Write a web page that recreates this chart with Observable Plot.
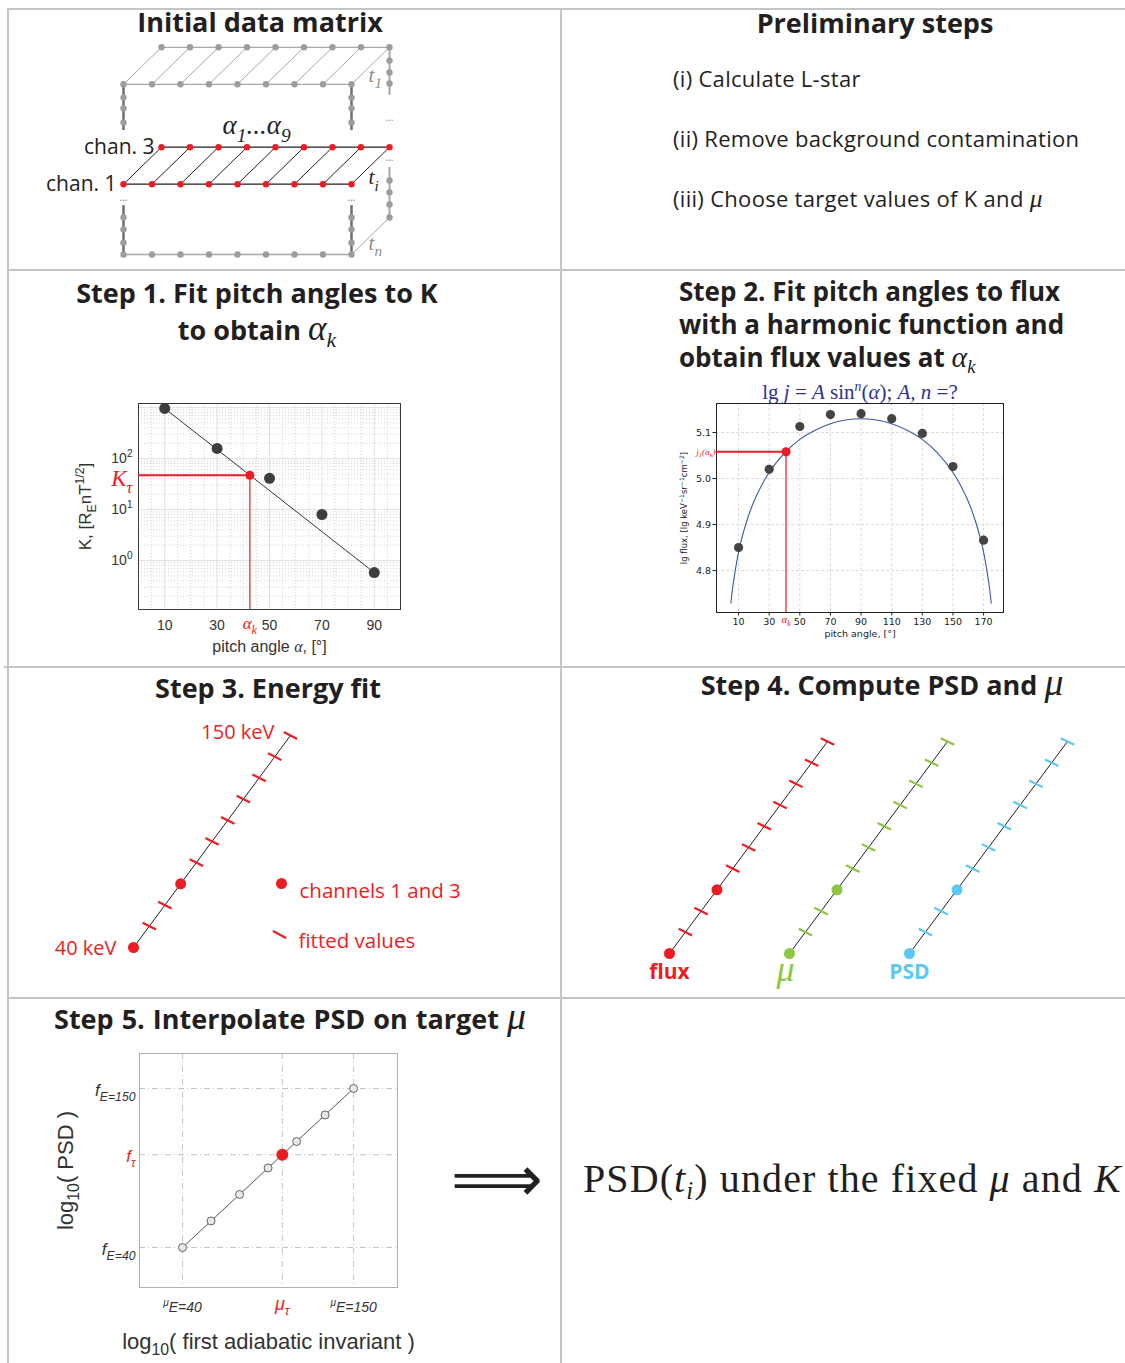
<!DOCTYPE html>
<html><head><meta charset="utf-8">
<script src="https://cdn.jsdelivr.net/npm/d3@7"></script>
<script src="https://cdn.jsdelivr.net/npm/@observablehq/plot@0.6"></script>
<style>
html,body{margin:0;padding:0;background:#fff}
#root{position:relative;width:1125px;height:1363px;overflow:hidden;font-family:"Open Sans",Lato,sans-serif;color:#231f20;background:#fff}
.sep{position:absolute;background:#c4c4c4}
.t{position:absolute;font-weight:700;font-size:27px;line-height:30px;white-space:nowrap}
.c{transform:translateX(-50%)}
.m{font-family:"Liberation Serif",serif;font-style:italic;font-weight:400;font-size:1.3em;line-height:0}
.m sub,.s sub{font-size:0.62em;vertical-align:-0.3em;line-height:0}
.item{position:absolute;left:673px;font-size:22px;letter-spacing:0.3px;line-height:26px;white-space:nowrap}
.pl{position:absolute}
.pl svg{overflow:visible}
</style></head><body><div id="root"></div>
<script>
// ---------------- DATA ----------------
const RED = "#ed1c24", GREEN = "#8dc63f", CYAN = "#5bc8f5", DARK = "#231f20";
const SERIF = "'Liberation Serif', serif", SANS = "'Liberation Sans', Arial, sans-serif", BODY = "'Open Sans', sans-serif";

// Panel "Initial data matrix": 9 pitch-angle bins, time slices t1, ti, tn
const alphaIndex = [1, 2, 3, 4, 5, 6, 7, 8, 9];
const faces = [
  {name: "t_{1}", level: 4.6, dot: "#9d9d9d", line: "#a7a7a7", label: "#8c8c8c"},
  {name: "t_{i}", level: 1.9, dot: RED, line: DARK, label: DARK}
];
const bottomFace = {name: "t_{n}", level: 0, label: "#8c8c8c"};
const depthShift = {x: 1.333, y: 1};
const frontUpperDots = [4.24, 3.95, 3.57];
const frontLowerDots = [1.0, 0.68, 0.32];
const backUpperDots = [5.24, 4.92, 4.62];
const backLowerDots = [2.0, 1.68, 1.35, 1.0];
const channelLabels = ["chan. 3", "chan. 1"];

// Step 1: K vs pitch angle
const pitchAngles = [10, 30, 50, 70, 90];
const kValues = [960, 158, 41, 8, 0.58];
const kFitAngles = [10, 90];
const kFitValues = [960, 0.58];
const alphaK1 = 42.5, kTau = 47;

// Step 2: lg flux vs pitch angle
const fluxAngles = [10, 30, 50, 70, 90, 110, 130, 150, 170];
const lgFlux = [4.85, 5.02, 5.113, 5.139, 5.141, 5.13, 5.098, 5.026, 4.866];
const fitAngles = [5, 6, 7.5, 10, 15, 20, 25, 30, 40, 50, 60, 70, 80, 90, 100, 110, 120, 130, 140, 150, 155, 160, 165, 170, 172.5, 174, 175];
const fitLgFlux = [4.729, 4.759, 4.793, 4.840, 4.904, 4.950, 4.985, 5.013, 5.055, 5.085, 5.105, 5.119, 5.127, 5.130, 5.127, 5.119, 5.105, 5.085, 5.055, 5.013, 4.985, 4.950, 4.904, 4.840, 4.793, 4.759, 4.729];
const alphaK2 = 41, jAlphaK = 5.058;

// Step 3 / 4: energy grid (keV)
const energies = [40, 45.7, 52.1, 59.5, 67.9, 77.5, 88.4, 100.9, 115.2, 131.4, 150];
const channelEnergies = [40, 59.5];
const quantities = ["flux", "μ", "PSD"];
const quantityColors = [RED, GREEN, CYAN];

// Step 5: interpolation of PSD on target mu
const logMuSteps = [0, 1, 2, 3, 4, 5, 6];
const logPsdSteps = [0, 1, 2, 3, 4, 5, 6];
const muTarget = 3.5, psdTarget = 3.5;
const muTicks = [0, 3.5, 6];
const muTickLabels = ["^{μ}E=40", "μ_{τ}", "^{μ}E=150"];
const psdTicks = [0, 3.5, 6];
const psdTickLabels = ["f_{E=40}", "f_{τ}", "f_{E=150}"];

// ---------------- LAYOUT ----------------
const root = document.getElementById("root");
root.innerHTML = `
<div class="sep" style="left:8px;top:8px;width:1117px;height:2px"></div>
<div class="sep" style="left:8px;top:269px;width:1117px;height:2px"></div>
<div class="sep" style="left:4px;top:666px;width:1121px;height:2px"></div>
<div class="sep" style="left:8px;top:997px;width:1117px;height:2px"></div>
<div class="sep" style="left:7px;top:8px;width:2px;height:1355px"></div>
<div class="sep" style="left:560px;top:8px;width:2px;height:1355px"></div>
<div class="t c" style="left:260px;top:7px">Initial data matrix</div>
<div class="t c" style="left:875px;top:8px">Preliminary steps</div>
<div class="item" style="top:65px">(i) Calculate L-star</div>
<div class="item" style="top:125px">(ii) Remove background contamination</div>
<div class="item" style="top:185px">(iii) Choose target values of K and <span class="m" style="font-size:1.15em">μ</span></div>
<div class="t c" style="left:257px;top:274px;line-height:37px;text-align:center">Step 1. Fit pitch angles to K<br>to obtain <span class="m">α<sub>k</sub></span></div>
<div class="t" style="left:679px;top:275px;font-size:26px;line-height:33px">Step 2. Fit pitch angles to flux</div>
<div class="t" style="left:679px;top:308px;font-size:26px;line-height:33px">with a harmonic function and</div>
<div class="t" style="left:679px;top:341px;font-size:26px;line-height:33px">obtain flux values at <span class="m" style="font-size:1.15em">α<sub>k</sub></span></div>
<div class="s c" style="position:absolute;left:860px;top:381px;font-family:'Liberation Serif',serif;font-size:21px;line-height:22px;color:#2e3192;white-space:nowrap">lg <i>j</i> = <i>A</i> sin<sup style="font-size:0.65em;line-height:0"><i>n</i></sup>(<i>α</i>); <i>A, n</i> =?</div>
<div class="t c" style="left:268px;top:673px">Step 3. Energy fit</div>
<div class="t c" style="left:882px;top:670px">Step 4. Compute PSD and <span class="m" style="font-size:1.4em">μ</span></div>
<div class="t c" style="left:290px;top:1004px;word-spacing:1px">Step 5. Interpolate PSD on target <span class="m" style="font-size:1.4em">μ</span></div>
<div style="position:absolute;left:451px;top:1147px;font-family:'DejaVu Sans',sans-serif;font-size:64px;line-height:64px;color:#231f20">⟹</div>
<div class="s" style="position:absolute;left:583px;top:1158px;font-family:'Liberation Serif',serif;font-size:40px;line-height:42px;letter-spacing:1.1px;white-space:nowrap;color:#231f20">PSD(<i>t<sub>i</sub></i>) under the fixed <i>μ</i> and <i>K</i></div>
`;
function place(el, left, top, w, h) {
  const d = document.createElement("div");
  d.className = "pl";
  d.style.cssText = `left:${left}px;top:${top}px;width:${w}px;height:${h}px`;
  d.appendChild(el);
  root.appendChild(d);
}
const baseStyle = {background: "transparent", overflow: "visible"};
const slash = (deg) => ({
  draw(ctx, size) {
    const r = Math.sqrt(size / Math.PI), a = deg * Math.PI / 180;
    const dx = Math.cos(a) * r, dy = Math.sin(a) * r;
    ctx.moveTo(-dx, -dy); ctx.lineTo(dx, dy);
  }
});

// ---------------- CHART A: data matrix ----------------
{
  const DX = depthShift.x, DY = depthShift.y;
  const pts = [];
  faces.forEach(f => alphaIndex.forEach(k => pts.push({face: f.name, k, level: f.level, dot: f.dot, line: f.line})));
  const bottom = alphaIndex.map(k => ({k, level: bottomFace.level}));
  const topL = faces[0].level;
  const frontEdges = [1, 9].flatMap(x => [{x, y1: topL, y2: 3.35}, {x, y1: 1.32, y2: bottomFace.level}]);
  const backX = 9 + DX;
  const backEdges = [{x: backX, y1: topL + DY, y2: 4.3}, {x: backX, y1: 2.35, y2: bottomFace.level + DY}];
  const edgeDots = [1, 9].flatMap(x => [...frontUpperDots, ...frontLowerDots].map(y => ({x, y})))
    .concat([...backUpperDots, ...backLowerDots].map(y => ({x: backX, y})));
  const ellipses = [{x: 1, y: 1.54}, {x: 9, y: 1.54}, {x: backX, y: 3.7}, {x: backX, y: 2.62}];
  const tLabels = [...faces, bottomFace].map((f, i) => ({t: f.name, y: [4.85, 2.08, 0.3][i], c: f.label}));
  const chart = Plot.plot({
    width: 553, height: 261, margin: 0,
    x: {domain: [1, 9], range: [115, 343], axis: null},
    y: {domain: [0, 1], range: [245, 208], axis: null},
    color: {type: "identity"},
    style: baseStyle,
    marks: [
      Plot.ruleX(frontEdges, {x: "x", y1: "y1", y2: "y2", stroke: "#6d6e71", strokeWidth: 2.5}),
      Plot.ruleX(backEdges, {x: "x", y1: "y1", y2: "y2", stroke: "#a7a7a7", strokeWidth: 2}),
      Plot.link(pts, {x1: "k", y1: "level", x2: d => d.k + DX, y2: d => d.level + DY, stroke: "line", strokeWidth: 1}),
      Plot.line(pts, {x: "k", y: "level", z: "face", stroke: "line", strokeWidth: 1.2}),
      Plot.line(pts, {x: d => d.k + DX, y: d => d.level + DY, z: "face", stroke: "line", strokeWidth: 1.2}),
      Plot.line(bottom, {x: "k", y: "level", stroke: "#a7a7a7", strokeWidth: 1.5}),
      Plot.link([bottom[8]], {x1: "k", y1: "level", x2: d => d.k + DX, y2: d => d.level + DY, stroke: "#a7a7a7", strokeWidth: 1}),
      Plot.dot(edgeDots, {x: "x", y: "y", r: 3.2, fill: "#9d9d9d"}),
      Plot.dot(bottom, {x: "k", y: "level", r: 3.2, fill: "#9d9d9d"}),
      Plot.dot(pts, {x: "k", y: "level", r: 3.2, fill: "dot"}),
      Plot.dot(pts, {x: d => d.k + DX, y: d => d.level + DY, r: 3.2, fill: "dot"}),
      Plot.text(ellipses, {x: "x", y: "y", text: () => "...", fontSize: 10, fill: "#888"}),
      Plot.text([0], {x: 5.67, y: 3.49, text: () => "α_{1}...α_{9}", fontFamily: SERIF, fontStyle: "italic", fontSize: 27, fill: DARK}),
      Plot.text([{x: 1 + DX, y: faces[1].level + DY, t: channelLabels[0]}, {x: 1, y: faces[1].level, t: channelLabels[1]}],
        {x: "x", y: "y", text: "t", textAnchor: "end", dx: -7, fontFamily: BODY, fontSize: 21, fill: DARK}),
      Plot.text(tLabels, {x: 9.6, y: "y", text: "t", fill: "c", textAnchor: "start", fontFamily: SERIF, fontStyle: "italic", fontSize: 21})
    ]
  });
  place(chart, 8, 9, 553, 261);
}

// ---------------- CHART B: Step 1 ----------------
{
  const minorX = [5, 15, 20, 25, 35, 40, 45, 55, 60, 65, 75, 80, 85, 95];
  const majorY = [1, 10, 100, 1000];
  const minorY = [];
  [0.1, 1, 10, 100].forEach(b => [2, 3, 4, 5, 6, 7, 8, 9].forEach(m => minorY.push(b * m)));
  const rows = pitchAngles.map((a, i) => ({a, k: kValues[i]}));
  const fit = kFitAngles.map((a, i) => ({a, k: kFitValues[i]}));
  const ymin = Math.pow(10, -0.96), ymax = Math.pow(10, 3.08);
  const chart = Plot.plot({
    width: 360, height: 280, marginLeft: 78, marginRight: 20, marginTop: 13, marginBottom: 61,
    x: {domain: [0, 100], ticks: pitchAngles, tickSize: 0, tickPadding: 11, label: null},
    y: {type: "log", domain: [ymin, ymax], ticks: [1, 10, 100], tickFormat: d => `10^{${Math.round(Math.log10(d))}}`, tickSize: 0, tickPadding: 6, label: null},
    style: {...baseStyle, fontFamily: SANS, fontSize: "14px", color: "#333"},
    marks: [
      Plot.ruleX(minorX, {stroke: "#d4d4d4", strokeDasharray: "1,2"}),
      Plot.ruleY(minorY.filter(v => v > ymin && v < ymax), {stroke: "#d4d4d4", strokeDasharray: "1,2"}),
      Plot.ruleX(pitchAngles, {stroke: "#e2e2e2"}),
      Plot.ruleY(majorY, {stroke: "#e2e2e2"}),
      Plot.frame({stroke: "#3a3a3a"}),
      Plot.line(fit, {x: "a", y: "k", stroke: "#333", strokeWidth: 1}),
      Plot.ruleY([kTau], {x1: 0, x2: alphaK1, stroke: RED, strokeWidth: 2}),
      Plot.ruleX([alphaK1], {y1: ymin, y2: kTau, stroke: "#f0474e", strokeWidth: 1.5}),
      Plot.dot(rows, {x: "a", y: "k", r: 5.5, fill: "#3d3d3d"}),
      Plot.dot([0], {x: alphaK1, y: kTau, r: 4.5, fill: RED}),
      Plot.text([0], {x: alphaK1, frameAnchor: "bottom", dy: 19, text: () => "α_{k}", fill: RED, fontFamily: SERIF, fontStyle: "italic", fontSize: 17}),
      Plot.text([0], {y: kTau, frameAnchor: "left", dx: -6, dy: 3, textAnchor: "end", text: () => "K_{τ}", fill: RED, fontFamily: SERIF, fontStyle: "italic", fontSize: 23}),
      Plot.text([0], {frameAnchor: "left", dx: -53, rotate: -90, textAnchor: "middle", text: () => "K, [R_{E}nT^{1/2}]", fontSize: 17, fill: "#333"}),
      Plot.text([0], {frameAnchor: "bottom", dy: 42, text: () => "pitch angle @{α}, [°]", fontSize: 16, fill: "#333"})
    ]
  });
  place(chart, 60, 390, 360, 280);
}

// ---------------- CHART C: Step 2 ----------------
{
  const rows = fluxAngles.map((a, i) => ({a, f: lgFlux[i]}));
  const curve = fitAngles.map((a, i) => ({a, f: fitLgFlux[i]}));
  const ymin = 4.709, ymax = 5.163;
  const chart = Plot.plot({
    width: 350, height: 270, marginLeft: 46, marginRight: 17, marginTop: 23, marginBottom: 38,
    x: {domain: [-4.4, 183], ticks: fluxAngles, tickSize: 3.5, tickPadding: 2, label: null},
    y: {domain: [ymin, ymax], ticks: [4.8, 4.9, 5.0, 5.1], tickFormat: ".1f", tickSize: 3.5, tickPadding: 2, label: null},
    style: {...baseStyle, fontFamily: "'DejaVu Sans', sans-serif", fontSize: "9.5px", color: "#222"},
    marks: [
      Plot.ruleX(fluxAngles, {stroke: "#dcdcdc", strokeDasharray: "3,2"}),
      Plot.ruleY([4.8, 4.9, 5.0, 5.1], {stroke: "#dcdcdc", strokeDasharray: "3,2"}),
      Plot.frame({stroke: "#222"}),
      Plot.line(curve, {x: "a", y: "f", stroke: "#3d5aa8", strokeWidth: 1.1, curve: "monotone-x"}),
      Plot.ruleY([jAlphaK], {x1: -4.4, x2: alphaK2, stroke: RED, strokeWidth: 2}),
      Plot.ruleX([alphaK2], {y1: ymin, y2: jAlphaK, stroke: "#f0474e", strokeWidth: 1.5}),
      Plot.dot(rows, {x: "a", y: "f", r: 4.6, fill: "#444"}),
      Plot.dot([0], {x: alphaK2, y: jAlphaK, r: 4.6, fill: RED}),
      Plot.text([0], {x: alphaK2, frameAnchor: "bottom", dy: 10, text: () => "α_{k}", fill: RED, fontFamily: SERIF, fontStyle: "italic", fontSize: 11}),
      Plot.text([0], {y: jAlphaK, frameAnchor: "left", dx: -1, textAnchor: "end", text: () => "j_{1}(α_{k})", fill: RED, fontFamily: SERIF, fontStyle: "italic", fontSize: 9}),
      Plot.text([0], {frameAnchor: "left", dx: -32, rotate: -90, textAnchor: "middle", text: () => "lg flux, [lg keV^{−1}sr^{−1}cm^{−2}]", fontSize: 8.5, fill: "#222"}),
      Plot.text([0], {frameAnchor: "bottom", dy: 24, text: () => "pitch angle, [°]", fontSize: 9.5, fill: "#222"})
    ]
  });
  place(chart, 670, 380, 350, 270);
}

// ---------------- CHART D: Step 3 ----------------
{
  const rows = energies.map(E => ({E}));
  const fitted = energies.filter(E => !channelEnergies.includes(E)).map(E => ({E}));
  const chart = Plot.plot({
    width: 553, height: 331, margin: 0,
    x: {type: "log", domain: [40, 150], range: [125, 282], axis: null},
    y: {type: "log", domain: [40, 150], range: [280, 68], axis: null},
    style: {...baseStyle, fontFamily: BODY},
    marks: [
      Plot.line(rows, {x: "E", y: "E", stroke: DARK, strokeWidth: 1}),
      Plot.dot(fitted, {x: "E", y: "E", r: 7.5, symbol: slash(27), stroke: RED, strokeWidth: 2.2, fill: "none"}),
      Plot.dot(channelEnergies, {x: d => d, y: d => d, r: 5.5, fill: RED}),
      Plot.text([150], {x: d => d, y: d => d, text: () => "150 keV", textAnchor: "end", dx: -16, dy: -3, fill: RED, fontSize: 20}),
      Plot.text([40], {x: d => d, y: d => d, text: () => "40 keV", textAnchor: "end", dx: -17, dy: 1, fill: RED, fontSize: 20}),
      Plot.dot([0], {frameAnchor: "top-left", dx: 273, dy: 216, r: 5.5, fill: RED}),
      Plot.text([0], {frameAnchor: "top-left", dx: 291, dy: 216, text: () => "channels 1 and 3", textAnchor: "start", fill: RED, fontSize: 20.5}),
      Plot.dot([0], {frameAnchor: "top-left", dx: 271, dy: 267, r: 7.5, symbol: slash(27), stroke: RED, strokeWidth: 2.2, fill: "none"}),
      Plot.text([0], {frameAnchor: "top-left", dx: 290, dy: 266, text: () => "fitted values", textAnchor: "start", fill: RED, fontSize: 20.5})
    ]
  });
  place(chart, 8, 667, 553, 331);
}

// ---------------- CHART E: Step 4 ----------------
{
  const rows = quantities.flatMap((q, i) => energies.map(E => ({q, E, c: quantityColors[i], ch: channelEnergies.includes(E)})));
  const labels = quantities.map((q, i) => ({q, c: quantityColors[i]}));
  const chart = Plot.plot({
    width: 564, height: 331, marginLeft: 60, marginRight: 144, marginTop: 0, marginBottom: 0,
    fx: {domain: quantities, axis: null, padding: 0},
    x: {type: "log", domain: [40, 150], range: [108, 266], axis: null},
    y: {type: "log", domain: [40, 150], range: [286, 74], axis: null},
    color: {type: "identity"},
    style: {...baseStyle, fontFamily: BODY},
    marks: [
      Plot.line(rows, {fx: "q", x: "E", y: "E", z: "q", stroke: DARK, strokeWidth: 1}),
      Plot.dot(rows.filter(d => !d.ch), {fx: "q", x: "E", y: "E", r: 7.5, symbol: slash(26), stroke: "c", strokeWidth: 2.2, fill: "none"}),
      Plot.dot(rows.filter(d => d.ch), {fx: "q", x: "E", y: "E", r: 5.5, fill: "c"}),
      Plot.text(labels.filter(d => d.q !== "μ"), {fx: "q", x: 40, y: 40, dy: 19, text: "q", fill: "c", fontWeight: "bold", fontSize: 21}),
      Plot.text(labels.filter(d => d.q === "μ"), {fx: "q", x: 40, y: 40, dy: 16, dx: -4, text: "q", fill: "c", fontFamily: SERIF, fontStyle: "italic", fontSize: 36})
    ]
  });
  place(chart, 561, 667, 564, 331);
}

// ---------------- CHART F: Step 5 ----------------
{
  const rows = logMuSteps.map((m, i) => ({m, p: logPsdSteps[i]}));
  const xt = muTicks.map((v, i) => ({v, t: muTickLabels[i], c: v === muTarget ? RED : "#333"}));
  const yt = psdTicks.map((v, i) => ({v, t: psdTickLabels[i], c: v === psdTarget ? RED : "#333"}));
  const chart = Plot.plot({
    width: 400, height: 323, marginLeft: 99, marginRight: 43, marginTop: 13, marginBottom: 76,
    x: {domain: [-1.51, 7.54], axis: null},
    y: {domain: [-1.51, 7.32], axis: null},
    color: {type: "identity"},
    style: {...baseStyle, fontFamily: SANS},
    marks: [
      Plot.ruleX(muTicks, {stroke: "#c4c4c4", strokeDasharray: "6,3,1,3"}),
      Plot.ruleY(psdTicks, {stroke: "#c4c4c4", strokeDasharray: "6,3,1,3"}),
      Plot.frame({stroke: "#b0b0b0"}),
      Plot.line(rows, {x: "m", y: "p", stroke: "#444", strokeWidth: 0.9}),
      Plot.dot(rows, {x: "m", y: "p", r: 4, fill: "#e8e8e8", stroke: "#555", strokeWidth: 0.9}),
      Plot.dot([0], {x: muTarget, y: psdTarget, r: 6, fill: RED}),
      Plot.text(xt.filter(d => d.v !== muTarget), {x: "v", frameAnchor: "bottom", dy: 24, text: "t", fill: "c", fontStyle: "italic", fontSize: 14}),
      Plot.text(xt.filter(d => d.v === muTarget), {x: "v", frameAnchor: "bottom", dy: 22, text: "t", fill: "c", fontStyle: "italic", fontSize: 18}),
      Plot.text(yt, {y: "v", frameAnchor: "left", dx: -4, dy: 2, textAnchor: "end", text: "t", fill: "c", fontStyle: "italic", fontSize: 17}),
      Plot.text([0], {frameAnchor: "left", dx: -74, rotate: -90, textAnchor: "middle", text: () => "log_{10}( PSD )", fontSize: 22, fill: "#333"}),
      Plot.text([0], {frameAnchor: "bottom", dy: 61, text: () => "log_{10}( first adiabatic invariant )", fontSize: 22, fill: "#333"})
    ]
  });
  place(chart, 40, 1040, 400, 323);
}

// ---------------- rich text (sub/superscripts, italic serif) ----------------
function richify(el) {
  const NS = "http://www.w3.org/2000/svg";
  el.querySelectorAll("svg text").forEach(t => {
    const s = t.textContent;
    if (!/[_^@]\{/.test(s)) return;
    const fs = parseFloat(getComputedStyle(t).fontSize) || 12;
    t.textContent = "";
    const re = /([_^@])\{([^}]*)\}/g;
    let last = 0, m, shift = 0;
    const add = (str, kind) => {
      if (!str) return;
      const ts = document.createElementNS(NS, "tspan");
      ts.textContent = str;
      const target = kind === "_" ? 0.3 * fs : kind === "^" ? -0.42 * fs : 0;
      if (target !== shift) ts.setAttribute("dy", (target - shift).toFixed(2));
      shift = target;
      if (kind === "_" || kind === "^") ts.setAttribute("font-size", (0.72 * fs).toFixed(2));
      if (kind === "@") { ts.setAttribute("font-family", SERIF); ts.setAttribute("font-style", "italic"); }
      t.appendChild(ts);
    };
    while ((m = re.exec(s))) { add(s.slice(last, m.index), null); add(m[2], m[1]); last = re.lastIndex; }
    add(s.slice(last), null);
  });
}
richify(root);
</script></body></html>
